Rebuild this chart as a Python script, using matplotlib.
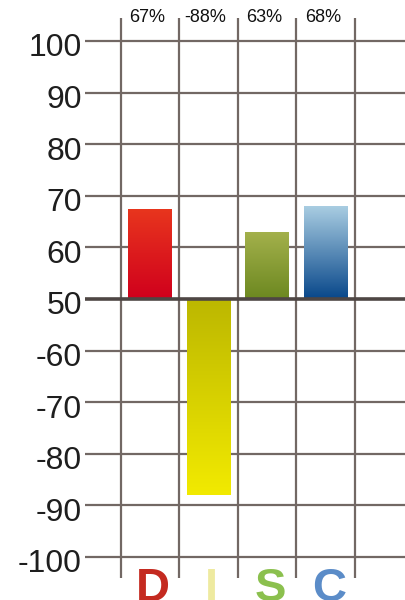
import numpy as np
import matplotlib
matplotlib.use("Agg")
import matplotlib.pyplot as plt
from matplotlib.colors import LinearSegmentedColormap
from matplotlib.transforms import ScaledTranslation

# ---- data ----
categories = ["D", "I", "S", "C"]
values = [67.5, -88, 63, 68]          # bar values
pct_labels = ["67%", "-88%", "63%", "68%"]
ytick_values = [100, 90, 80, 70, 60, 50, -60, -70, -80, -90, -100]

# ---- styles ----
letter_colors = ["#c42a20", "#eeeaa0", "#8bc04e", "#5b8cc8"]
grads = [("#e8361e", "#d0001c"),   # D top->bottom
         ("#bcb700", "#f2ea00"),   # I top->bottom
         ("#a4b14c", "#6c8820"),   # S
         ("#a9cde2", "#08478a")]   # C
grid_col = "#726864"
zero_col = "#4e4644"


def to_pos(v):
    # split scale: 50..100 above the 50 line, -50..-100 below it
    return v - 50 if v >= 0 else v + 50


W, H = 406, 600
fig = plt.figure(figsize=(W / 100, H / 100), dpi=100)
ax = fig.add_axes([85 / W, 0, 1 - 85 / W, 1])

px_unit = 5.16      # pixels per data unit
x_step = 58.6
x0_px = 120.7       # first vertical grid line
ax.set_xlim(-0.5 + (85 - x0_px) / x_step, -0.5 + (W - x0_px) / x_step)
ax.set_ylim(-50 - (H - 557) / px_unit, 50 + 41 / px_unit)
for s in ax.spines.values():
    s.set_visible(False)
ax.set_xticks([])

tick_pos = [to_pos(v) for v in ytick_values]
ax.set_yticks(tick_pos)
ax.set_yticklabels([str(v) for v in ytick_values])
ax.tick_params(axis="y", length=0, pad=2.2, labelsize=23, labelcolor="#1e1e1e")
off = ScaledTranslation(0, -4 / 100, fig.dpi_scale_trans)
for lab in ax.get_yticklabels():
    lab.set_fontfamily("Liberation Sans")
    lab.set_transform(lab.get_transform() + off)

xlo, xhi = ax.get_xlim()
# horizontal grid
for p in tick_pos:
    if p == 0:
        continue
    ax.hlines(p, xlo, xhi, color=grid_col, lw=1.6, zorder=1)
# vertical grid
n = len(categories)
vx = np.arange(n + 1) - 0.5
ax.vlines(vx, -50 - 21 / px_unit, 50 + 23 / px_unit, color=grid_col, lw=1.6, zorder=1)

# bars
xs = np.arange(n)
pos_vals = [to_pos(v) for v in values]
bars = ax.bar(xs, pos_vals, width=0.75, color="none", edgecolor="none", zorder=2)
for b, (ctop, cbot) in zip(bars, grads):
    x, y = b.get_x(), b.get_y()
    w, h = b.get_width(), b.get_height()
    ylo, yhi = min(y, y + h), max(y, y + h)
    cmap = LinearSegmentedColormap.from_list("g", [cbot, ctop])
    grad = np.linspace(1, 0, 256).reshape(-1, 1)
    im = ax.imshow(grad, cmap=cmap, aspect="auto", extent=[x, x + w, ylo, yhi],
                   origin="upper", zorder=2, vmin=0, vmax=1)
    im.set_clip_path(b)

# 50 line (thicker)
ax.hlines(0, xlo, xhi, color=zero_col, lw=2.6, zorder=3)

# percent labels on top
for xi, t in zip(xs, pct_labels):
    ax.text(xi - 0.05, 50 + (41 - 18) / px_unit, t, ha="center", va="center",
            fontsize=13, family="Liberation Sans", color="#111111", zorder=4)

# category letters at bottom
for xi, c, col in zip(xs, categories, letter_colors):
    ax.text(xi + 0.05, -50 - (567 - 557) / px_unit, c, ha="center", va="top",
            fontsize=34, fontweight="bold", family="Liberation Sans",
            color=col, zorder=4)

ax.set_xlim(xlo, xhi)
fig.savefig("out.png", dpi=100)
